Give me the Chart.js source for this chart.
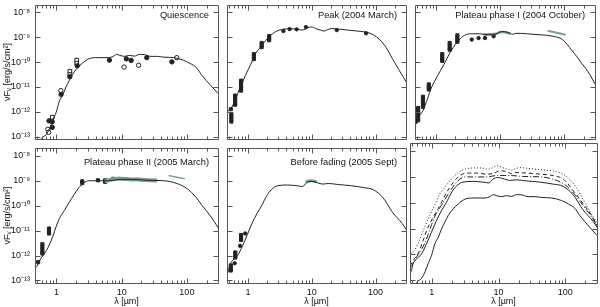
<!DOCTYPE html>
<html>
<head>
<meta charset="utf-8">
<script src="https://cdn.jsdelivr.net/npm/chart.js@4"></script>
<style>
html, body { margin: 0; padding: 0; background: #fff; }
#wrap { position: relative; width: 600px; height: 307px; overflow: hidden; }
canvas { position: absolute; }
.ptitle { position: absolute; font: 9.3px "Liberation Sans", Arial, sans-serif; color: #111; white-space: nowrap; line-height: 10px; }
</style>
</head>
<body>
<div id="wrap">
  <canvas id="p1" width="223" height="144" style="left:0;top:0"></canvas>
  <canvas id="p2" width="189" height="144" style="left:222px;top:0"></canvas>
  <canvas id="p3" width="190" height="144" style="left:410px;top:0"></canvas>
  <canvas id="p4" width="223" height="164" style="left:0;top:143px"></canvas>
  <canvas id="p5" width="189" height="164" style="left:222px;top:143px"></canvas>
  <canvas id="p6" width="190" height="164" style="left:410px;top:143px"></canvas>
  <div class="ptitle" style="right:391px;top:10px">Quiescence</div>
  <div class="ptitle" style="right:203px;top:10px">Peak (2004 March)</div>
  <div class="ptitle" style="right:15px;top:10px">Plateau phase I (2004 October)</div>
  <div class="ptitle" style="right:391px;top:157px">Plateau phase II (2005 March)</div>
  <div class="ptitle" style="right:203px;top:157px">Before fading (2005 Sept)</div>
</div>
<script>
// Axis ranges and ticks
const lamMin = 0.47, lamMax = 300;
const fluxMin = 7.94e-14, fluxMax = 2.0e-8;
const xTickValues = [1, 10, 100];
const xTickLabels = ['1', '10', '100'];
const xMinorTicks = [0.5, 0.6, 0.7, 0.8, 0.9, 2, 3, 4, 5, 6, 7, 8, 9, 20, 30, 40, 50, 60, 70, 80, 90, 200];
const yTickValues = [1e-13, 1e-12, 1e-11, 1e-10, 1e-9, 1e-8];
const yTickLabels = ['10⁻¹³', '10⁻¹²', '10⁻¹¹', '10⁻¹⁰', '10⁻⁹', '10⁻⁸'];

// Quiescence
const quiesModelLam = [0.55, 0.59, 0.70, 0.79, 0.88, 0.99, 1.11, 1.25, 1.40, 1.57, 1.76, 2.09, 2.49, 2.96, 3.52, 4.43, 6.25, 7.43, 8.34, 9.38, 11.1, 13.2, 15.7, 18.7, 22.2, 27.9, 35.2, 44.3, 62.6, 88.4, 111, 140, 166, 235, 299];
const quiesModelFlux = [5.0e-14, 8.1e-14, 1.2e-13, 2.14e-13, 4.47e-13, 9.3e-13, 2.63e-12, 4.68e-12, 9.8e-12, 1.78e-11, 3.16e-11, 5.75e-11, 8.9e-11, 1.26e-10, 1.48e-10, 1.51e-10, 1.51e-10, 1.70e-10, 2.04e-10, 1.86e-10, 1.70e-10, 1.86e-10, 1.74e-10, 2.04e-10, 2.00e-10, 1.70e-10, 1.70e-10, 1.58e-10, 1.51e-10, 1.20e-10, 8.9e-11, 6.0e-11, 3.16e-11, 1.10e-11, 5.5e-12];
const quiesDetLam = [0.77, 0.865, 0.865, 1.18, 1.61, 2.09, 6.5, 11.8, 14.0, 24.3, 59];
const quiesDetFlux = [4.27e-13, 3.9e-13, 2.34e-13, 5.0e-12, 2.57e-11, 7.1e-11, 1.20e-10, 1.35e-10, 1.17e-10, 1.51e-10, 1.02e-10];
const quiesOpenLam = [0.74, 0.76, 1.17, 10.9, 18.2, 70];
const quiesOpenFlux = [1.95e-13, 1.48e-13, 7.1e-12, 6.3e-11, 7.4e-11, 1.51e-10];
const quiesSqLam = [0.865, 1.61, 1.61, 2.05, 2.05];
const quiesSqFlux = [6.0e-13, 4.27e-11, 3.16e-11, 1.20e-10, 8.9e-11];

// Peak (2004 March)
const peakModelLam = [0.47, 0.492, 0.552, 0.619, 0.694, 0.780, 0.927, 1.10, 1.31, 1.56, 1.85, 2.20, 2.61, 3.10, 3.69, 4.63, 5.84, 6.94, 7.78, 8.75, 9.80, 11.6, 13.8, 15.5, 17.5, 20.8, 26.1, 36.8, 52.0, 73.5, 92.5, 116, 146, 184, 232, 310];
const peakModelFlux = [8.9e-13, 1.10e-12, 1.45e-12, 2.63e-12, 5.5e-12, 1.12e-11, 3.16e-11, 7.8e-11, 2.14e-10, 3.9e-10, 6.9e-10, 1.10e-9, 1.58e-9, 1.95e-9, 2.14e-9, 2.19e-9, 2.14e-9, 1.95e-9, 2.09e-9, 2.45e-9, 2.63e-9, 2.24e-9, 1.95e-9, 1.78e-9, 2.00e-9, 2.24e-9, 2.14e-9, 1.95e-9, 1.78e-9, 1.58e-9, 1.26e-9, 8.1e-10, 3.9e-10, 1.38e-10, 4.9e-11, 1.45e-11];
const peakBarLam = [0.55, 0.55, 0.55, 0.55, 0.54, 0.63, 0.63, 0.63, 0.63, 0.63, 0.78, 0.78, 0.78, 0.78, 0.78, 1.24, 1.24, 1.24, 1.64, 1.64, 1.64, 2.15, 2.15, 2.15];
const peakBarFlux = [7.9e-13, 6.3e-13, 5.0e-13, 4.0e-13, 1.26e-12, 4.47e-12, 3.55e-12, 2.82e-12, 2.24e-12, 1.91e-12, 1.78e-11, 1.41e-11, 1.12e-11, 8.9e-12, 7.1e-12, 2.09e-10, 1.66e-10, 1.32e-10, 5.9e-10, 4.8e-10, 4.0e-10, 1.12e-9, 9.1e-10, 7.6e-10];
const peakDotLam = [3.6, 4.5, 5.8, 8.1, 24.7, 71];
const peakDotFlux = [1.78e-9, 2.14e-9, 2.09e-9, 2.57e-9, 1.95e-9, 1.45e-9];

// Plateau phase I (2004 October)
const plat1ModelLam = [0.47, 0.526, 0.625, 0.743, 0.836, 1.05, 1.32, 1.67, 2.09, 2.64, 3.33, 4.70, 6.63, 8.34, 10.5, 13.2, 15.7, 17.6, 26.4, 41.8, 66.2, 93.5, 132, 187, 249, 299];
const plat1ModelFlux = [3.55e-13, 6.0e-13, 1.10e-12, 3.55e-12, 8.5e-12, 2.75e-11, 7.8e-11, 2.51e-10, 6.0e-10, 1.10e-9, 1.38e-9, 1.38e-9, 1.26e-9, 1.32e-9, 1.70e-9, 1.58e-9, 1.32e-9, 1.45e-9, 1.38e-9, 1.26e-9, 1.10e-9, 8.1e-10, 2.88e-10, 8.9e-11, 3.16e-11, 1.32e-11];
const plat1BarLam = [0.48, 0.526, 0.526, 0.526, 0.526, 0.526, 0.526, 0.625, 0.625, 0.625, 0.625, 0.625, 0.77, 0.77, 0.77, 1.25, 1.25, 1.25, 1.25, 1.63, 1.63, 1.63, 1.63, 2.15, 2.15, 2.15, 2.15];
const plat1BarFlux = [3.9e-13, 1.41e-12, 1.12e-12, 8.9e-13, 7.1e-13, 5.6e-13, 4.5e-13, 4.0e-12, 3.16e-12, 2.51e-12, 2.0e-12, 1.58e-12, 1.26e-11, 1.0e-11, 7.9e-12, 2.09e-10, 1.66e-10, 1.32e-10, 1.12e-10, 5.9e-10, 4.7e-10, 3.7e-10, 3.16e-10, 1.20e-9, 9.5e-10, 7.6e-10, 6.6e-10];
const plat1DotLam = [3.6, 4.6, 5.8, 7.9];
const plat1DotFlux = [8.1e-10, 9.3e-10, 9.3e-10, 1.10e-9];
const plat1IrsLam = [5.5, 7, 8.5, 10, 11.5, 13, 14.5];
const plat1IrsFlux = [1.26e-9, 1.32e-9, 1.38e-9, 1.58e-9, 1.62e-9, 1.51e-9, 1.38e-9];
const plat1FarLam = [55, 70, 90, 105];
const plat1FarFlux = [1.82e-9, 1.58e-9, 1.38e-9, 1.26e-9];

// Plateau phase II (2005 March)
const plat2ModelLam = [0.47, 0.50, 0.559, 0.626, 0.703, 0.789, 0.884, 0.993, 1.11, 1.32, 1.57, 1.87, 2.22, 2.64, 3.13, 4.43, 6.25, 9.9, 14.0, 24.9, 44.3, 70.2, 99, 140, 166, 235, 306];
const plat2ModelFlux = [3.24e-13, 3.63e-13, 6.6e-13, 1.02e-12, 1.58e-12, 2.88e-12, 6.0e-12, 1.45e-11, 3.0e-11, 6.3e-11, 1.32e-10, 2.75e-10, 5.2e-10, 8.1e-10, 9.8e-10, 9.8e-10, 9.8e-10, 1.12e-9, 1.12e-9, 1.02e-9, 9.8e-10, 7.6e-10, 4.9e-10, 2.04e-10, 1.12e-10, 3.5e-11, 1.23e-11];
const plat2BarLam = [0.526, 0.61, 0.61, 0.61, 0.61, 0.61, 0.77, 0.77, 0.77, 2.49, 2.49, 4.33, 5.58, 5.58, 7.43];
const plat2BarFlux = [5.4e-13, 2.82e-12, 2.24e-12, 1.78e-12, 1.41e-12, 1.20e-12, 1.20e-11, 9.5e-12, 7.6e-12, 9.3e-10, 7.9e-10, 1.02e-9, 1.02e-9, 8.9e-10, 1.17e-9];
const plat2IrsLam = [5.5, 6.5, 8, 9, 10, 12, 14, 17, 20, 24, 28, 35];
const plat2IrsFlux = [9.5e-10, 1.05e-9, 1.15e-9, 1.20e-9, 1.17e-9, 1.15e-9, 1.10e-9, 1.12e-9, 1.07e-9, 1.05e-9, 1.02e-9, 1.0e-9];
const plat2FarLam = [52.6, 93];
const plat2FarFlux = [1.58e-9, 1.17e-9];

// Before fading (2005 Sept)
const fadeModelLam = [0.47, 0.492, 0.521, 0.584, 0.694, 0.824, 0.98, 1.16, 1.38, 1.64, 1.95, 2.32, 2.93, 4.14, 5.84, 7.18, 8.24, 9.80, 12.4, 14.7, 18.4, 26.1, 41.4, 65.5, 92.5, 131, 184, 261, 310];
const fadeModelFlux = [1.78e-13, 2.34e-13, 4.27e-13, 6.6e-13, 1.02e-12, 2.45e-12, 6.9e-12, 1.91e-11, 4.7e-11, 9.8e-11, 2.34e-10, 4.27e-10, 6.2e-10, 6.6e-10, 6.2e-10, 5.75e-10, 8.1e-10, 9.3e-10, 8.1e-10, 7.2e-10, 7.6e-10, 6.9e-10, 6.2e-10, 5.2e-10, 4.27e-10, 2.04e-10, 5.4e-11, 1.91e-11, 1.0e-11];
const fadeBarLam = [0.54, 0.54, 0.54, 0.634, 0.634, 0.634, 0.78, 0.78, 0.78];
const fadeBarFlux = [4.0e-13, 3.16e-13, 2.51e-13, 1.32e-12, 1.05e-12, 8.3e-13, 6.6e-12, 5.2e-12, 4.2e-12];
const fadeDotLam = [0.62, 0.753, 0.906];
const fadeDotFlux = [4.9e-13, 2.45e-12, 7.6e-12];
const fadeIrsLam = [8, 9, 10, 11, 12];
const fadeIrsFlux = [8.7e-10, 9.5e-10, 9.8e-10, 9.3e-10, 8.7e-10];

Chart.defaults.font.family = '"Liberation Sans", Arial, sans-serif';
Chart.defaults.font.size = 9;
Chart.defaults.color = '#111';

const ink = '#222';
const specColor = '#79a09a';

function pts(lam, flux) {
    return lam.map((l, i) => ({ x: l, y: flux[i] }));
}

function modelLine(lam, flux, dash) {
    return {
        data: pts(lam, flux), showLine: true, pointRadius: 0,
        borderColor: ink, borderWidth: 1, borderDash: dash || [],
        cubicInterpolationMode: 'monotone'
    };
}

function spectrum(lam, flux, width) {
    return {
        data: pts(lam, flux), showLine: true, pointRadius: 0,
        borderColor: specColor, borderWidth: width, tension: 0.3
    };
}

function marks(lam, flux, style, radius, open) {
    return {
        data: pts(lam, flux), pointStyle: style, pointRadius: radius,
        pointBackgroundColor: open ? '#fff' : ink, pointBorderColor: ink,
        pointBorderWidth: 1
    };
}

// frame with inward ticks on all four sides
const frameTicks = {
    id: 'frameTicks',
    afterDatasetsDraw(chart) {
        const { ctx, chartArea: a, scales: { x, y } } = chart;
        const L = Math.round(a.left) + 0.5, R = Math.round(a.right) + 0.5;
        const T = Math.round(a.top) + 0.5, B = Math.round(a.bottom) + 0.5;
        ctx.save();
        ctx.strokeStyle = '#555';
        ctx.lineWidth = 1;
        ctx.beginPath();
        ctx.rect(L, T, R - L, B - T);
        const xTick = (v, len) => {
            const px = Math.round(x.getPixelForValue(v)) + 0.5;
            ctx.moveTo(px, B); ctx.lineTo(px, B - len);
            ctx.moveTo(px, T); ctx.lineTo(px, T + len);
        };
        xTickValues.forEach(v => xTick(v, 5));
        xMinorTicks.forEach(v => xTick(v, 3));
        yTickValues.forEach(v => {
            const py = Math.round(y.getPixelForValue(v)) + 0.5;
            ctx.moveTo(L, py); ctx.lineTo(L + 5, py);
            ctx.moveTo(R, py); ctx.lineTo(R - 5, py);
        });
        ctx.stroke();
        ctx.restore();
    }
};

function makePanel(id, datasets, showX, showY, pad) {
    new Chart(document.getElementById(id), {
        type: 'scatter',
        data: { datasets },
        options: {
            responsive: false,
            animation: false,
            devicePixelRatio: 1,
            layout: { padding: pad },
            plugins: { legend: { display: false }, tooltip: { enabled: false } },
            scales: {
                x: {
                    type: 'logarithmic', min: lamMin, max: lamMax, display: showX,
                    grid: { display: false, drawTicks: false }, border: { display: false },
                    ticks: { padding: 4, maxRotation: 0, autoSkip: false, callback: (v, i) => xTickLabels[i] },
                    title: { display: true, text: 'λ [µm]', padding: { top: 0, bottom: 0 } },
                    afterBuildTicks: s => { s.ticks = xTickValues.map(v => ({ value: v })); },
                    afterFit: s => {
                        if (showX) s.height = 24;
                        s.paddingLeft = 0; s.paddingRight = 0; s.paddingTop = 0; s.paddingBottom = 0;
                    }
                },
                y: {
                    type: 'logarithmic', min: fluxMin, max: fluxMax, display: showY,
                    grid: { display: false, drawTicks: false }, border: { display: false },
                    ticks: { padding: 5, autoSkip: false, callback: (v, i) => yTickLabels[i] },
                    title: { display: true, text: 'νFᵥ [erg/s/cm²]', padding: { top: 2, bottom: 0 } },
                    afterBuildTicks: s => { s.ticks = yTickValues.map(v => ({ value: v })); },
                    afterFit: s => {
                        if (showY) s.width = 35;
                        s.paddingLeft = 0; s.paddingRight = 0; s.paddingTop = 0; s.paddingBottom = 0;
                    }
                }
            }
        },
        plugins: [frameTicks]
    });
}

const padTop = { top: 2, right: 1, bottom: 1, left: 0 };
const padTopRight = { top: 2, right: 3, bottom: 1, left: 0 };
const padBottom = { top: 0, right: 1, bottom: 0, left: 0 };
const padBottomRight = { top: 0, right: 3, bottom: 0, left: 0 };

makePanel('p1', [
    modelLine(quiesModelLam, quiesModelFlux),
    marks(quiesDetLam, quiesDetFlux, 'circle', 2.2, false),
    marks(quiesOpenLam, quiesOpenFlux, 'circle', 2.2, true),
    marks(quiesSqLam, quiesSqFlux, 'rect', 2.6, true)
], false, true, padTop);

makePanel('p2', [
    modelLine(peakModelLam, peakModelFlux),
    marks(peakBarLam, peakBarFlux, 'rect', 2.2, false),
    marks(peakDotLam, peakDotFlux, 'circle', 1.7, false)
], false, false, padTop);

makePanel('p3', [
    modelLine(plat1ModelLam, plat1ModelFlux),
    spectrum(plat1IrsLam, plat1IrsFlux, 2.5),
    spectrum(plat1FarLam, plat1FarFlux, 2),
    marks(plat1BarLam, plat1BarFlux, 'rect', 2.2, false),
    marks(plat1DotLam, plat1DotFlux, 'circle', 1.7, false)
], false, false, padTopRight);

makePanel('p4', [
    modelLine(plat2ModelLam, plat2ModelFlux),
    spectrum(plat2IrsLam, plat2IrsFlux, 4),
    spectrum(plat2FarLam, plat2FarFlux, 1.5),
    marks(plat2BarLam, plat2BarFlux, 'rect', 2.2, false)
], true, true, padBottom);

makePanel('p5', [
    modelLine(fadeModelLam, fadeModelFlux),
    spectrum(fadeIrsLam, fadeIrsFlux, 3),
    marks(fadeBarLam, fadeBarFlux, 'rect', 2.2, false),
    marks(fadeDotLam, fadeDotFlux, 'circle', 1.7, false)
], true, false, padBottom);

// all five models together
makePanel('p6', [
    modelLine(peakModelLam, peakModelFlux, [1, 2]),
    modelLine(plat1ModelLam, plat1ModelFlux, [4, 3]),
    modelLine(plat2ModelLam, plat2ModelFlux, [6, 2, 1, 2]),
    modelLine(fadeModelLam, fadeModelFlux),
    modelLine(quiesModelLam, quiesModelFlux)
], true, false, padBottomRight);
</script>
</body>
</html>
